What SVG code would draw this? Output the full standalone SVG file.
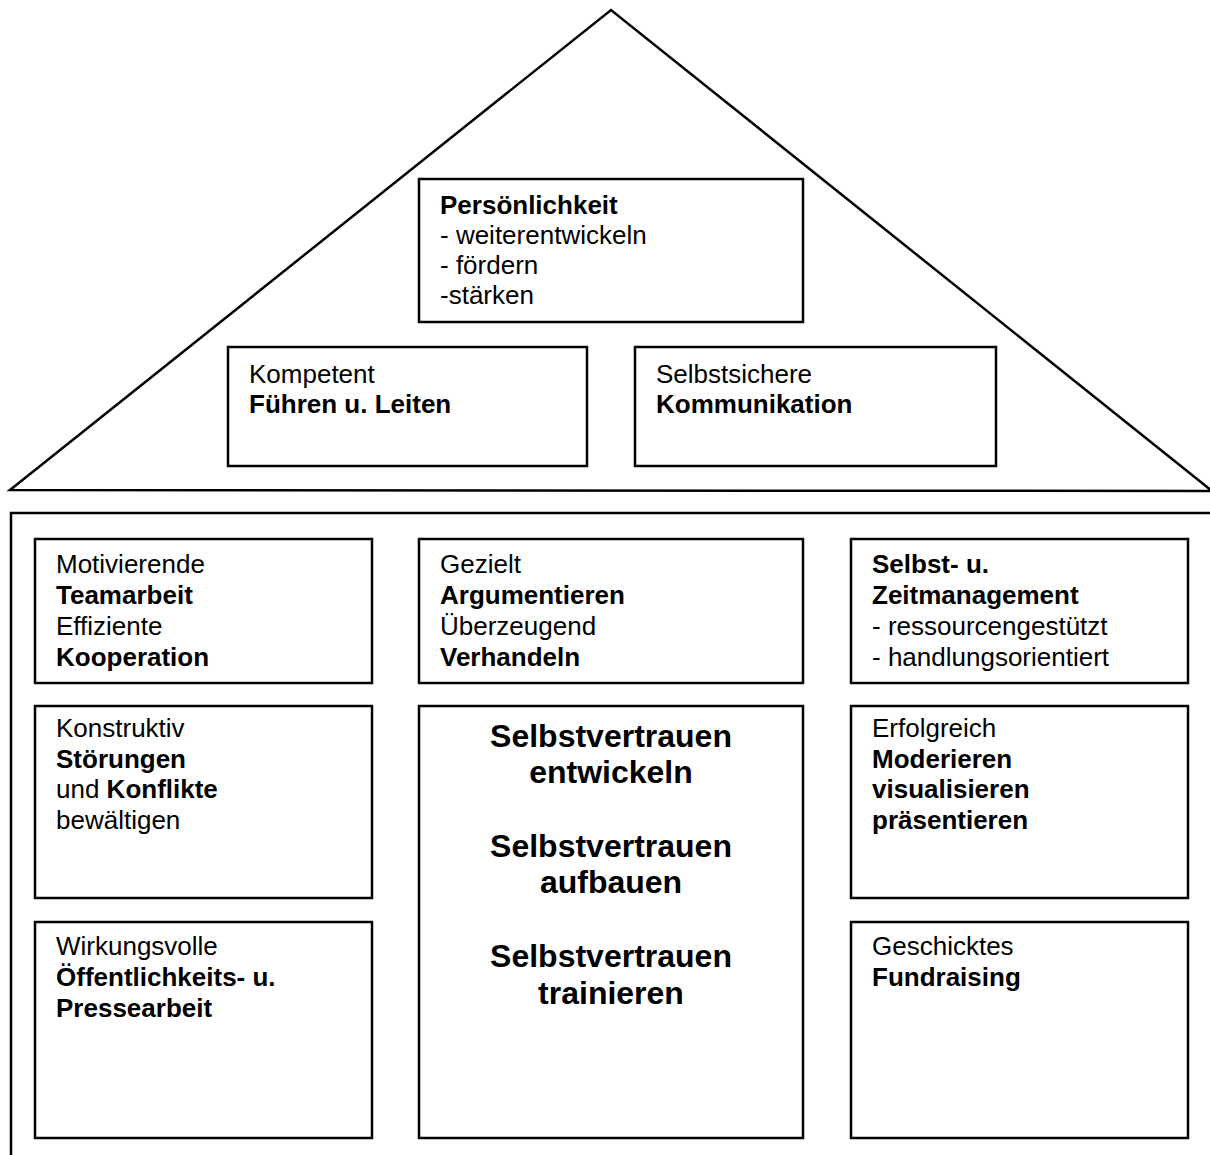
<svg xmlns="http://www.w3.org/2000/svg" width="1210" height="1155" viewBox="0 0 1210 1155">
<style>
.box{fill:#fff;stroke:#000;stroke-width:2.5}
.house{fill:none;stroke:#000;stroke-width:2.5}
text{font-family:"Liberation Sans",Arial,sans-serif;font-size:26px;fill:#000}
.b{font-weight:bold}
.big{font-size:32px;font-weight:bold;text-anchor:middle}
</style>
<rect width="1210" height="1155" fill="#fff"/>
<g id="house">
<polygon class="house" points="10,490 611,10 1212,491 10,490"/>
<polyline class="house" points="1212,513 11,513 11,1157"/>
</g>
<g id="connectors"></g>
<g id="personlichkeit">
<rect class="box" x="419" y="179" width="384" height="143"/>
<text x="440" y="214" class="b">Persönlichkeit</text>
<text x="440" y="244">- weiterentwickeln</text>
<text x="440" y="274">- fördern</text>
<text x="440" y="304">-stärken</text>
</g>
<g id="fuehren">
<rect class="box" x="228" y="347" width="359" height="119"/>
<text x="249" y="383">Kompetent</text>
<text x="249" y="413" class="b">Führen u. Leiten</text>
</g>
<g id="kommunikation">
<rect class="box" x="635" y="347" width="361" height="119"/>
<text x="656" y="383">Selbstsichere</text>
<text x="656" y="413" class="b">Kommunikation</text>
</g>
<g id="teamarbeit">
<rect class="box" x="35" y="539" width="337" height="144"/>
<text x="56" y="573">Motivierende</text>
<text x="56" y="604" class="b">Teamarbeit</text>
<text x="56" y="635">Effiziente</text>
<text x="56" y="666" class="b">Kooperation</text>
</g>
<g id="argumentieren">
<rect class="box" x="419" y="539" width="384" height="144"/>
<text x="440" y="573">Gezielt</text>
<text x="440" y="604" class="b">Argumentieren</text>
<text x="440" y="635">Überzeugend</text>
<text x="440" y="666" class="b">Verhandeln</text>
</g>
<g id="zeitmanagement">
<rect class="box" x="851" y="539" width="337" height="144"/>
<text x="872" y="573" class="b">Selbst- u.</text>
<text x="872" y="604" class="b">Zeitmanagement</text>
<text x="872" y="635">- ressourcengestützt</text>
<text x="872" y="666">- handlungsorientiert</text>
</g>
<g id="konflikte">
<rect class="box" x="35" y="706" width="337" height="192"/>
<text x="56" y="737">Konstruktiv</text>
<text x="56" y="768" class="b">Störungen</text>
<text x="56" y="798">und <tspan class="b">Konflikte</tspan></text>
<text x="56" y="829">bewältigen</text>
</g>
<g id="selbstvertrauen">
<rect class="box" x="419" y="706" width="384" height="432"/>
<text x="611" y="747" class="big">Selbstvertrauen</text>
<text x="611" y="783" class="big">entwickeln</text>
<text x="611" y="857" class="big">Selbstvertrauen</text>
<text x="611" y="893" class="big">aufbauen</text>
<text x="611" y="967" class="big">Selbstvertrauen</text>
<text x="611" y="1004" class="big">trainieren</text>
</g>
<g id="moderieren">
<rect class="box" x="851" y="706" width="337" height="192"/>
<text x="872" y="737">Erfolgreich</text>
<text x="872" y="768" class="b">Moderieren</text>
<text x="872" y="798" class="b">visualisieren</text>
<text x="872" y="829" class="b">präsentieren</text>
</g>
<g id="pressearbeit">
<rect class="box" x="35" y="922" width="337" height="216"/>
<text x="56" y="955">Wirkungsvolle</text>
<text x="56" y="986" class="b">Öffentlichkeits- u.</text>
<text x="56" y="1017" class="b">Pressearbeit</text>
</g>
<g id="fundraising">
<rect class="box" x="851" y="922" width="337" height="216"/>
<text x="872" y="955">Geschicktes</text>
<text x="872" y="986" class="b">Fundraising</text>
</g>
</svg>
